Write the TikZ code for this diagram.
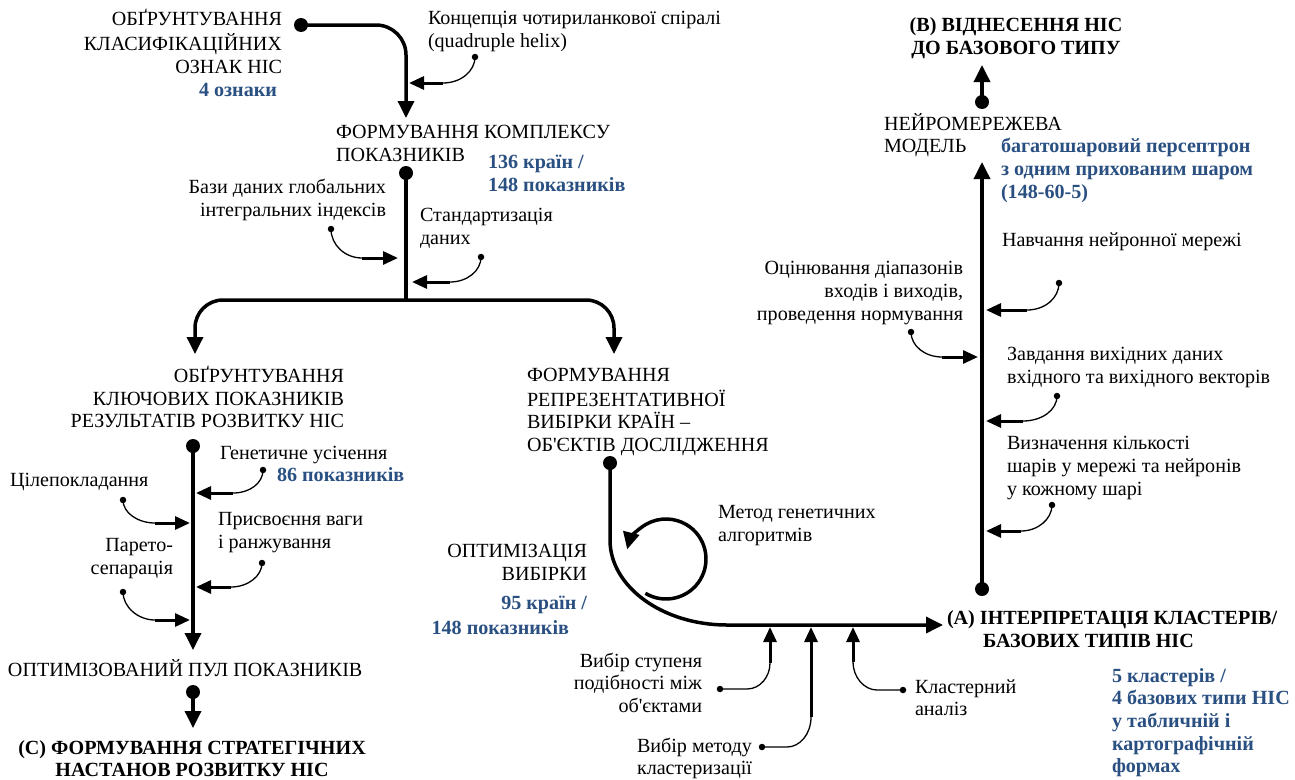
\documentclass[tikz,border=0pt]{standalone}
\usepackage{fontspec}
\setmainfont{Liberation Serif}[Ligatures=TeXOff]
\usetikzlibrary{arrows.meta}
\definecolor{myblue}{RGB}{42,80,130}
\newcommand\myfs{\fontsize{20.1}{22.7}\selectfont}
\begin{document}
\begin{tikzpicture}[x=1pt,y=-1pt,
  txt/.style={inner sep=0pt, outer sep=0pt, font=\myfs},
  bl/.style={txt, text=myblue, font=\myfs\bfseries},
  bd/.style={txt, font=\myfs\bfseries},
  mainln/.style={line width=3.5pt},
  mainarr/.style={line width=3.5pt, -{Triangle[length=17pt,width=16pt]}},
  inthin/.style={line width=1.3pt},
  inarr/.style={line width=3pt, -{Triangle[length=15pt,width=13pt]}},
  bigdot/.style={circle, fill, inner sep=0pt, minimum size=14pt},
  smdot/.style={circle, fill, inner sep=0pt, minimum size=6.5pt}]
\useasboundingbox (0,0) rectangle (1295,779);

% ---------- texts ----------
\node[txt, anchor=north east, align=right] (t1) at (282,9.1) {\strut ОБҐРУНТУВАННЯ\\КЛАСИФІКАЦІЙНИХ\\ОЗНАК НІС};
\node[bl, anchor=north east] (t2) at (277,81.1) {\strut 4 ознаки};
\node[txt, anchor=north west, align=left] (t3) at (428,9.1) {\strut Концепція чотириланкової спіралі\\(quadruple helix)};
\node[txt, anchor=north west, align=left] (t4) at (336,123.1) {\strut ФОРМУВАННЯ КОМПЛЕКСУ\\ПОКАЗНИКІВ};
\node[bl, anchor=north west, align=left] (t5) at (488,153.1) {\strut 136 країн /\\148 показників};
\node[txt, anchor=north east, align=right] (t6) at (386,178.1) {\strut Бази даних глобальних\\інтегральних індексів};
\node[txt, anchor=north west, align=left] (t7) at (420,206.1) {\strut Стандартизація\\даних};
\node[txt, anchor=north east, align=right] (t8) at (344,366.1) {\strut ОБҐРУНТУВАННЯ\\КЛЮЧОВИХ ПОКАЗНИКІВ\\РЕЗУЛЬТАТІВ РОЗВИТКУ НІС};
\node[txt, anchor=north west, align=left] (t9) at (527,366.1) {\strut ФОРМУВАННЯ\\РЕПРЕЗЕНТАТИВНОЇ\\ВИБІРКИ КРАЇН –\\ОБ'ЄКТІВ ДОСЛІДЖЕННЯ};
\node[txt, anchor=north west] (t10) at (220,444.1) {\strut Генетичне усічення};
\node[bl, anchor=north west] (t11) at (277,466.1) {\strut 86 показників};
\node[txt, anchor=north west] (t12) at (10,471.1) {\strut Цілепокладання};
\node[txt, anchor=north west, align=left] (t13) at (218,510.1) {\strut Присвоєння ваги\\і ранжування};
\node[txt, anchor=north east, align=right] (t14) at (173,536.1) {\strut Парето-\\сепарація};
\node[txt, anchor=north west] (t15) at (8,659.1) {\strut ОПТИМІЗОВАНИЙ ПУЛ ПОКАЗНИКІВ};
\node[bd, anchor=north, align=center] (t16) at (192,738.1) {\strut (С) ФОРМУВАННЯ СТРАТЕГІЧНИХ\\НАСТАНОВ РОЗВИТКУ НІС};
\node[txt, anchor=north east, align=right] (t17) at (587,542.1) {\strut ОПТИМІЗАЦІЯ\\ВИБІРКИ};
\node[bl, anchor=north east, align=right] (t18) at (587,594.1) {\strut 95 країн /\\[2pt]148 показників\hspace*{18pt}};
\node[txt, anchor=north west, align=left] (t19) at (718,503.1) {\strut Метод генетичних\\алгоритмів};
\node[txt, anchor=north east, align=right] (t20) at (702,651.1) {\strut Вибір ступеня\\подібності між\\об'єктами};
\node[txt, anchor=north west, align=left] (t21) at (637,736.1) {\strut Вибір методу\\кластеризації};
\node[txt, anchor=north west, align=left] (t22) at (915,677.1) {\strut Кластерний\\аналіз};
\node[bd, anchor=north west, align=left] (t23) at (947,609.1) {\strut (A) ІНТЕРПРЕТАЦІЯ КЛАСТЕРІВ/\\\hspace*{36pt}БАЗОВИХ ТИПІВ НІС};
\node[bl, anchor=north west, align=left] (t24) at (1112,666.1) {\strut 5 кластерів /\\4 базових типи НІС\\у табличній і\\картографічній\\формах};
\node[txt, anchor=north west] (t25) at (1002,231.1) {\strut Навчання нейронної мережі};
\node[txt, anchor=north east, align=right] (t26) at (963,259.1) {\strut Оцінювання діапазонів\\входів і виходів,\\проведення нормування};
\node[txt, anchor=north west, align=left] (t27) at (1007,345.1) {\strut Завдання вихідних даних\\вхідного та вихідного векторів};
\node[txt, anchor=north west, align=left] (t28) at (1007,434.1) {\strut Визначення кількості\\шарів у мережі та нейронів\\у кожному шарі};
\node[txt, anchor=north west, align=left] (t29) at (884,113.1) {\strut НЕЙРОМЕРЕЖЕВА\\МОДЕЛЬ};
\node[bl, anchor=north west, align=left] (t30) at (1001,137.1) {\strut багатошаровий персептрон\\з одним прихованим шаром\\(148-60-5)};
\node[bd, anchor=north, align=center] (t31) at (1016,16.1) {\strut (B) ВІДНЕСЕННЯ НІС\\ДО БАЗОВОГО ТИПУ};

% ---------- big dots ----------
\node[bigdot] (d1) at (301,25) {};
\node[bigdot] (d2) at (406,173) {};
\node[bigdot] (d3) at (193,446) {};
\node[bigdot] (d4) at (193,692) {};
\node[bigdot] (d5) at (610,463) {};
\node[bigdot] (d6) at (982,589) {};
\node[bigdot] (d7) at (982,102) {};

% ---------- small dots ----------
\node[smdot] (s1) at (475,57) {};
\node[smdot] (s2) at (331,229) {};
\node[smdot] (s3) at (481,257) {};
\node[smdot] (s4) at (263,470) {};
\node[smdot] (s5) at (123,500) {};
\node[smdot] (s6) at (262,563) {};
\node[smdot] (s7) at (123,592) {};
\node[smdot] (s8) at (720,689) {};
\node[smdot] (s9) at (762,747) {};
\node[smdot] (s10) at (903,690) {};
\node[smdot] (s11) at (1059,283) {};
\node[smdot] (s12) at (911,332) {};
\node[smdot] (s13) at (1057,396) {};
\node[smdot] (s14) at (1052,505) {};

% ---------- coordinates ----------
\coordinate (tipA) at (406,118);
\coordinate (br) at (406,300);
\coordinate (tipL) at (195,354);
\coordinate (tipR) at (614,354);
\coordinate (tipP) at (193,650);
\coordinate (tipC) at (193,728);
\coordinate (tipK) at (943,625);
\coordinate (tipN) at (982,162);
\coordinate (tipB) at (982,65);
\coordinate (loopc) at (666,559);

% ---------- main flow ----------
\draw[mainarr, rounded corners=30pt] (d1.center) -- (406,25) -- (tipA);
\draw[mainln] (d2.center) -- (br);
\draw[mainarr, rounded corners=28pt] (br) -- (195,300) -- (tipL);
\draw[mainarr, rounded corners=28pt] (br) -- (614,300) -- (tipR);
\draw[mainarr] (d3.center) -- (tipP);
\draw[mainarr] (d4.center) -- (tipC);
\draw[mainarr] (d5.center) -- (610,540) .. controls (610,587) and (663,625) .. (727,625) -- (tipK);
\draw[mainarr] (loopc) ++(121:40) arc[start angle=121, end angle=-166, radius=40];
\draw[mainarr] (d6.center) -- (tipN);
\draw[mainarr] (d7.center) -- (tipB);

% ---------- inputs ----------
\draw[inthin] (s1.center) .. controls (475,71) and (461,83) .. (443,83);
\draw[inarr] (443,83) -- (409,83);
\draw[inthin] (s2.center) .. controls (331,245) and (345,258) .. (362,258);
\draw[inarr] (362,258) -- (398,258);
\draw[inthin] (s3.center) .. controls (481,271) and (467,282) .. (450,282);
\draw[inarr] (450,282) -- (412,282);
\draw[inthin] (s4.center) .. controls (263,483) and (250,493) .. (233,493);
\draw[inarr] (233,493) -- (196,493);
\draw[inthin] (s5.center) .. controls (123,513) and (138,523) .. (155,523);
\draw[inarr] (155,523) -- (190,523);
\draw[inthin] (s6.center) .. controls (262,576) and (248,587) .. (231,587);
\draw[inarr] (231,587) -- (196,587);
\draw[inthin] (s7.center) .. controls (123,607) and (138,620) .. (155,620);
\draw[inarr] (155,620) -- (190,620);
\draw[inthin] (s8.center) -- (747,689) .. controls (760,689) and (770,677) .. (770,663);
\draw[inarr] (770,663) -- (770,627);
\draw[inthin] (s9.center) -- (787,747) .. controls (800,747) and (811,734) .. (811,717);
\draw[inarr] (811,717) -- (811,627);
\draw[inthin] (s10.center) -- (877,690) .. controls (864,690) and (853,677) .. (853,662);
\draw[inarr] (853,662) -- (853,627);
\draw[inthin] (s11.center) .. controls (1059,298) and (1045,310) .. (1027,310);
\draw[inarr] (1027,310) -- (986,310);
\draw[inthin] (s12.center) .. controls (911,346) and (925,357) .. (942,357);
\draw[inarr] (942,357) -- (978,357);
\draw[inthin] (s13.center) .. controls (1057,410) and (1042,421) .. (1023,421);
\draw[inarr] (1023,421) -- (986,421);
\draw[inthin] (s14.center) .. controls (1052,519) and (1038,531) .. (1021,531);
\draw[inarr] (1021,531) -- (986,531);
\end{tikzpicture}
\end{document}
